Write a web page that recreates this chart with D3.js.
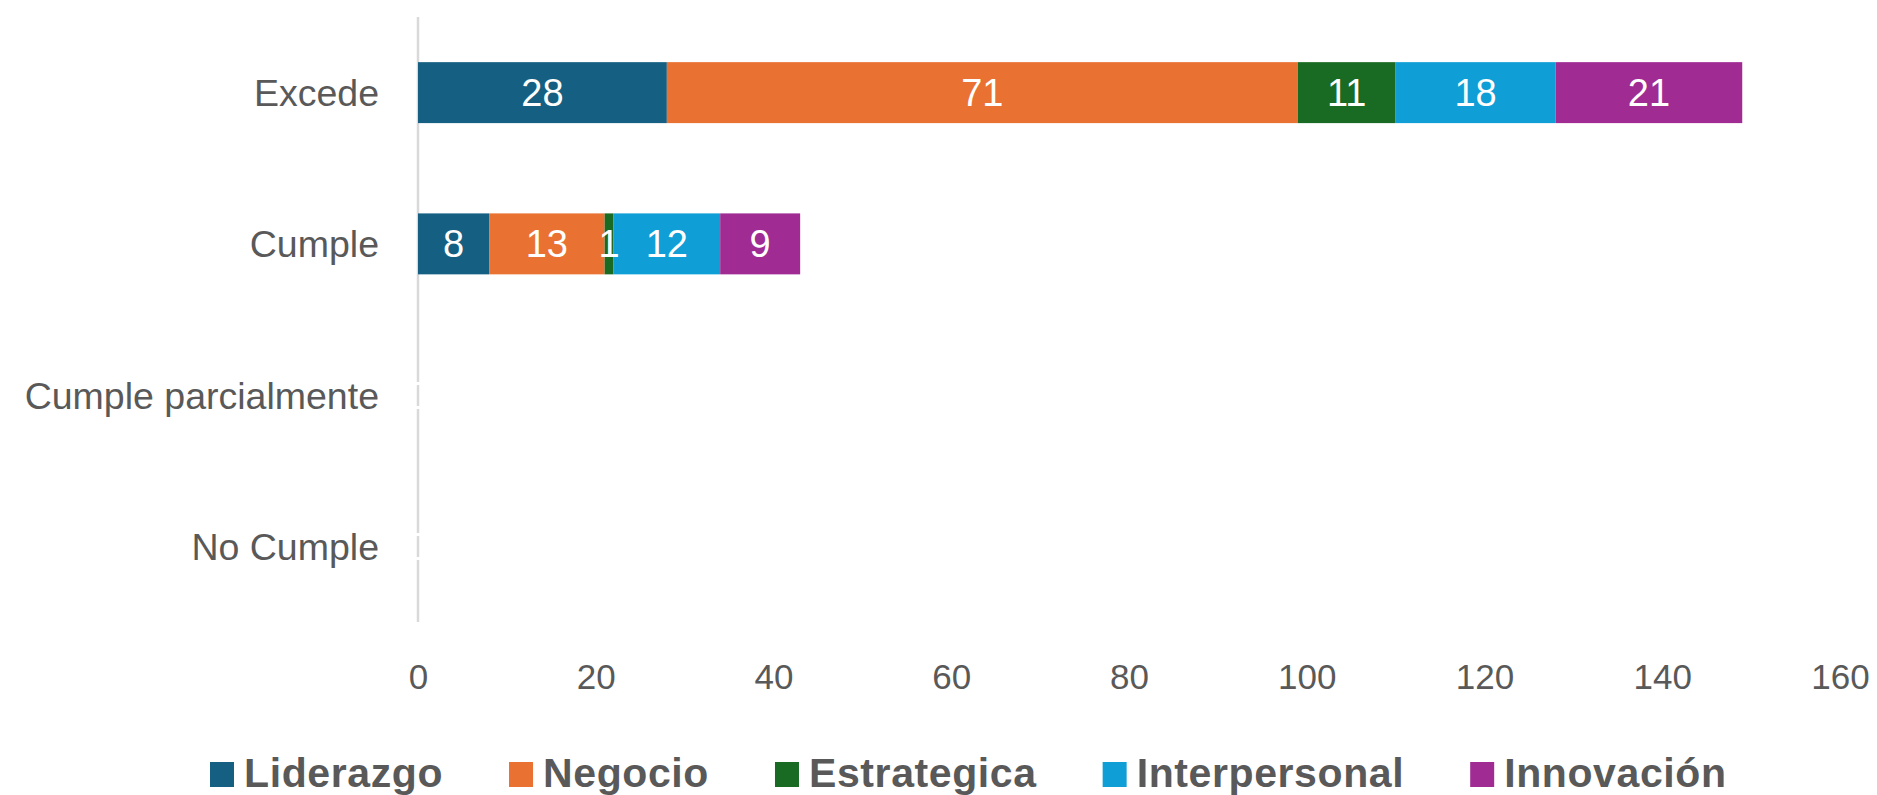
<!DOCTYPE html>
<html>
<head>
<meta charset="utf-8">
<script src="https://cdn.jsdelivr.net/npm/d3@7/dist/d3.min.js"></script>
<style>
  html, body { margin: 0; padding: 0; background: #ffffff; }
  svg { display: block; }
  text { font-family: "Liberation Sans", Arial, sans-serif; }
</style>
</head>
<body>
<svg id="chart" width="1877" height="795"></svg>
<script>
// ---- data ----
const categories = ["Excede", "Cumple", "Cumple parcialmente", "No Cumple"];
const seriesNames = ["Liderazgo", "Negocio", "Estrategica", "Interpersonal", "Innovación"];
const seriesColors = ["#156082", "#E97132", "#196B24", "#0F9ED5", "#A02B93"];
const liderazgo     = [28, 8, 0, 0];
const negocio       = [71, 13, 0, 0];
const estrategica   = [11, 1, 0, 0];
const interpersonal = [18, 12, 0, 0];
const innovacion    = [21, 9, 0, 0];
const xTicks = [0, 20, 40, 60, 80, 100, 120, 140, 160];

const seriesValues = [liderazgo, negocio, estrategica, interpersonal, innovacion];
const rows = categories.map((c, i) => {
  const r = { category: c };
  seriesNames.forEach((s, j) => r[s] = seriesValues[j][i]);
  return r;
});

// ---- layout ----
const svg = d3.select("#chart");
const textColor = "#595959";
const x = d3.scaleLinear().domain([0, 160]).range([418, 1840]);
const y = d3.scaleBand().domain(categories).range([17, 622]).paddingInner(0.597).paddingOuter(0.2985);

const stacked = d3.stack().keys(seriesNames)(rows);

// y axis line (under bars and labels)
svg.append("line")
  .attr("x1", x(0)).attr("x2", x(0))
  .attr("y1", y.range()[0]).attr("y2", y.range()[1])
  .attr("stroke", "#D9D9D9").attr("stroke-width", 2.5);

// bars
const gBars = svg.append("g");
stacked.forEach((layer, j) => {
  gBars.selectAll(null)
    .data(layer)
    .join("rect")
    .attr("x", d => x(d[0]))
    .attr("y", d => y(d.data.category))
    .attr("width", d => Math.max(0, x(d[1]) - x(d[0])))
    .attr("height", y.bandwidth())
    .attr("fill", seriesColors[j]);
});

// data labels
const gLabels = svg.append("g");
stacked.forEach((layer, j) => {
  gLabels.selectAll(null)
    .data(layer)
    .join("text")
    .attr("x", d => (x(d[0]) + x(d[1])) / 2)
    .attr("y", d => y(d.data.category) + y.bandwidth() / 2 + 13.5)
    .attr("text-anchor", "middle")
    .attr("fill", "#ffffff")
    .attr("font-size", 38)
    .text(d => d[1] - d[0]);
});

// category labels
svg.append("g").selectAll("text")
  .data(categories)
  .join("text")
  .attr("x", 379)
  .attr("y", d => y(d) + y.bandwidth() / 2 + 13.5)
  .attr("text-anchor", "end")
  .attr("fill", textColor)
  .attr("font-size", 37.5)
  .text(d => d);

// x axis ticks (labels only)
const xAxis = d3.axisBottom(x).tickValues(xTicks).tickSize(0).tickPadding(0);
const ax = svg.append("g").attr("transform", "translate(0,662)").call(xAxis);
ax.select(".domain").remove();
ax.selectAll("text")
  .attr("fill", textColor)
  .attr("font-size", 35)
  .attr("font-family", "'Liberation Sans', Arial, sans-serif")
  .attr("dy", "0.78em");

// legend
const legend = svg.append("g");
let lx = 210;
seriesNames.forEach((s, j) => {
  legend.append("rect")
    .attr("x", lx).attr("y", 762)
    .attr("width", 24).attr("height", 25)
    .attr("fill", seriesColors[j]);
  const t = legend.append("text")
    .attr("x", lx + 34).attr("y", 787)
    .attr("fill", textColor)
    .attr("font-size", 41)
    .attr("font-weight", "bold")
    .attr("letter-spacing", 0.6)
    .text(s);
  lx += 34 + t.node().getComputedTextLength() + 66;
});
</script>
</body>
</html>
